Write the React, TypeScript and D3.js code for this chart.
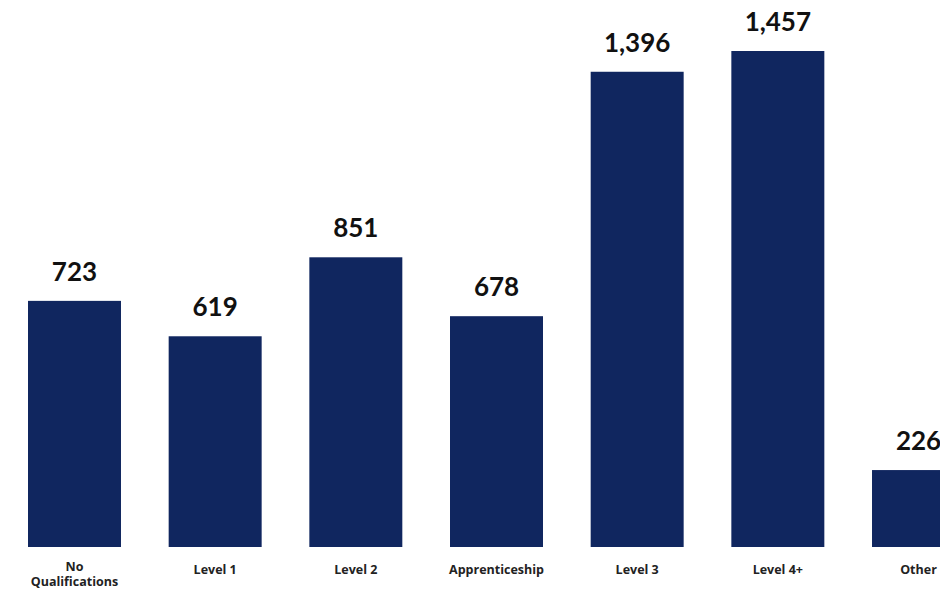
import React from "react";
import * as d3 from "d3";

const categories = ["No Qualifications", "Level 1", "Level 2", "Apprenticeship", "Level 3", "Level 4+", "Other"];
const values = [723, 619, 851, 678, 1396, 1457, 226];
const labelLines = [["No", "Qualifications"], ["Level 1"], ["Level 2"], ["Apprenticeship"], ["Level 3"], ["Level 4+"], ["Other"]];

const W = 940;
const H = 591;
const FONT = "Lato, 'Open Sans', sans-serif";
const CAT_FONT = "'Open Sans', sans-serif";

export default function App() {
  const x = d3.scaleBand<string>().domain(categories).range([28, 965]).paddingInner(0.339).paddingOuter(0);
  const y = d3.scaleLinear().domain([0, 1457]).range([547, 51]);
  const fmt = d3.format(",");
  return (
    <svg width={W} height={H} style={{ position: "absolute", left: 0, top: 0, background: "#fff" }}>
      {categories.map((c, i) => {
        const bx = x(c)!;
        const cx = bx + x.bandwidth() / 2;
        const multi = labelLines[i].length > 1;
        return (
          <g key={c}>
            <rect x={bx} y={y(values[i])} width={x.bandwidth()} height={y(0) - y(values[i])} fill="#10265f" />
            <text x={cx} y={y(values[i]) - 20} textAnchor="middle" fontFamily={FONT} fontWeight={700} fontSize={26} fill="#111">
              {fmt(values[i])}
            </text>
            {labelLines[i].map((ln, j) => (
              <text key={j} x={cx} y={(multi ? 571 : 574) + j * 15} textAnchor="middle" fontFamily={CAT_FONT} fontWeight={700} fontSize={12.5} fill="#222">
                {ln}
              </text>
            ))}
          </g>
        );
      })}
    </svg>
  );
}
